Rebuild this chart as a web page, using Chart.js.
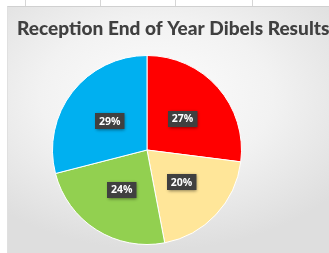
<!DOCTYPE html>
<html>
<head>
<meta charset="utf-8">
<script src="https://cdn.jsdelivr.net/npm/chart.js@4.4.1/dist/chart.umd.min.js"></script>
<style>
  html, body { margin: 0; padding: 0; background: #fff; }
  #wrap {
    position: relative; width: 329px; height: 253px; overflow: hidden;
    background:
      linear-gradient(#d6d6d6, #d6d6d6) 25px 0 / 1px 6px no-repeat,
      linear-gradient(#d6d6d6, #d6d6d6) 100px 0 / 1px 6px no-repeat,
      linear-gradient(#d6d6d6, #d6d6d6) 175px 0 / 1px 6px no-repeat,
      linear-gradient(#d6d6d6, #d6d6d6) 252px 0 / 1px 6px no-repeat,
      #fff;
  }
  #frame {
    position: absolute; left: 7px; top: 6px; right: -10px; bottom: -10px;
    border-top: 1px solid #d0d0d0; border-left: 1px solid #e0e0e0;
    background: radial-gradient(ellipse 70% 60% at 45% 35%, #fdfdfd 0%, #f2f2f2 50%, #dedede 100%);
  }
  canvas { position: absolute; left: 0; top: 0; }
</style>
</head>
<body>
<div id="wrap">
  <div id="frame"></div>
  <canvas id="pieChart" width="329" height="253"></canvas>
</div>
<script>
// --- Data ---
const TITLE = "Reception End of Year Dibels Results";
const categories = ["Red", "Yellow", "Green", "Blue"];
const percents = [27, 20, 24, 29];
const sliceColors = ["#ff0000", "#ffe699", "#92d050", "#00b0f0"];

// title is drawn by hand: the built-in one squeezes text to the chart width
const wideTitle = {
  id: "wideTitle",
  afterDraw(chart) {
    const ctx = chart.ctx;
    ctx.save();
    ctx.font = "900 20px Lato, sans-serif";
    const size = Math.min(22, 20 * 312 / ctx.measureText(TITLE).width);
    ctx.font = "900 " + size.toFixed(1) + "px Lato, sans-serif";
    ctx.fillStyle = "#404040";
    ctx.textAlign = "left";
    ctx.textBaseline = "alphabetic";
    ctx.fillText(TITLE, 17, 35);
    ctx.restore();
  }
};

// --- Dark boxed percentage labels in the middle of each slice ---
const boxLabels = {
  id: "boxLabels",
  afterDatasetsDraw(chart) {
    const ctx = chart.ctx;
    const meta = chart.getDatasetMeta(0);
    ctx.save();
    ctx.font = "bold 10.5px 'Open Sans', sans-serif";
    ctx.textAlign = "center";
    ctx.textBaseline = "middle";
    meta.data.forEach((arc, i) => {
      const p = arc.tooltipPosition();
      const txt = percents[i] + "%";
      const w = ctx.measureText(txt).width + 8;
      const h = 16;
      ctx.shadowColor = "rgba(0,0,0,0.45)";
      ctx.shadowBlur = 3;
      ctx.shadowOffsetX = 1;
      ctx.shadowOffsetY = 1;
      ctx.fillStyle = "#404040";
      ctx.fillRect(Math.round(p.x - w / 2), Math.round(p.y - h / 2), w, h);
      ctx.shadowColor = "transparent";
      ctx.fillStyle = "#ffffff";
      ctx.fillText(txt, p.x, p.y + 0.5);
    });
    ctx.restore();
  }
};

new Chart(document.getElementById("pieChart"), {
  type: "pie",
  data: {
    labels: categories,
    datasets: [{
      data: percents,
      backgroundColor: sliceColors,
      borderColor: "#ffffff",
      borderWidth: 1
    }]
  },
  options: {
    responsive: false,
    animation: false,
    layout: { padding: { left: 17, right: 52, top: 55, bottom: 8 } },
    plugins: {
      legend: { display: false },
      tooltip: { enabled: false },
      title: { display: false }
    }
  },
  plugins: [wideTitle, boxLabels]
});
</script>
</body>
</html>
